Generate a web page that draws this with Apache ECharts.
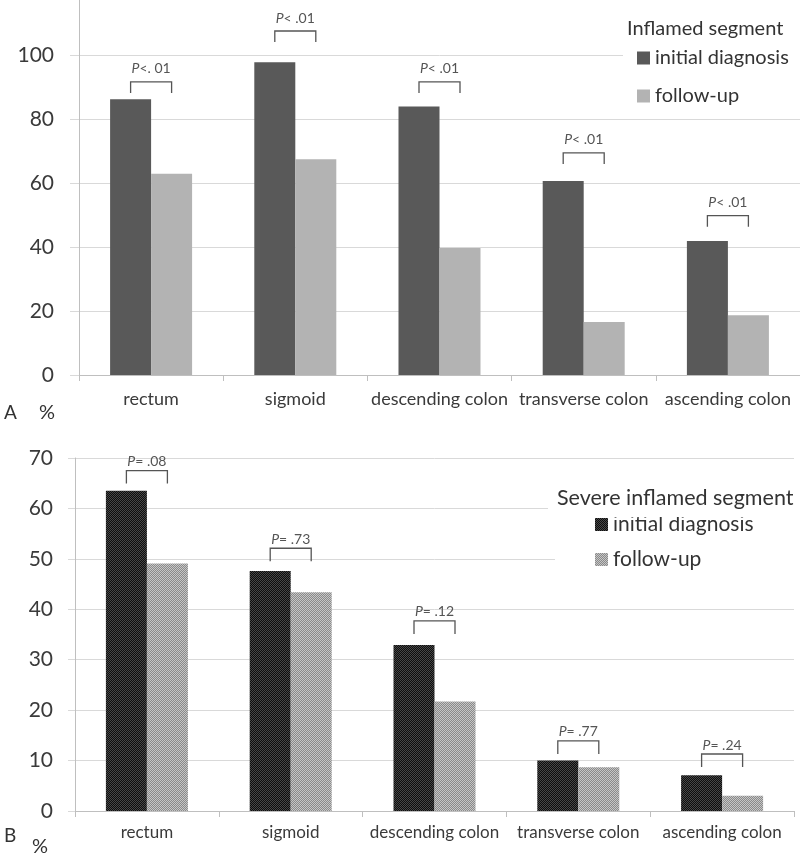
<!DOCTYPE html>
<html>
<head>
<meta charset="utf-8">
<script src="https://cdn.jsdelivr.net/npm/echarts@6/dist/echarts.min.js"></script>
<style>html,body{margin:0;padding:0;background:#fff}#c{width:800px;height:862px}</style>
</head>
<body>
<div id="c"></div>
<script>
// ---- data ----
var categories = ['rectum', 'sigmoid', 'descending colon', 'transverse colon', 'ascending colon'];
var inflamedInitial = [86.2, 97.7, 83.9, 60.6, 41.9];
var inflamedFollowUp = [62.9, 67.4, 39.7, 16.6, 18.7];
var inflamedBracket = [91.6, 107.5, 91.6, 69.4, 49.8];
var inflamedP = ['P<. 01', 'P< .01', 'P< .01', 'P< .01', 'P< .01'];
var severeInitial = [63.5, 47.6, 32.9, 10.0, 7.1];
var severeFollowUp = [49.1, 43.4, 21.7, 8.7, 3.0];
var severeBracket = [67.5, 52.1, 37.7, 13.9, 11.3];
var severeP = ['P= .08', 'P= .73', 'P= .12', 'P= .77', 'P= .24'];
var seriesNames = ['initial diagnosis', 'follow-up'];

var FONT = 'Lato, "Noto Sans", sans-serif';
var BAR_W = 41;

function checker(c1, c2) {
  var cv = document.createElement('canvas');
  cv.width = 2; cv.height = 2;
  var ctx = cv.getContext('2d');
  ctx.fillStyle = c1; ctx.fillRect(0, 0, 2, 2);
  ctx.fillStyle = c2; ctx.fillRect(0, 0, 1, 1); ctx.fillRect(1, 1, 1, 1);
  return { image: cv, repeat: 'repeat' };
}
var darkPattern = checker('#0e0e0e', '#474747');
var lightPattern = checker('#8a8a8a', '#c6c6c6');

function bracketSeries(gridIdx, levels, labels, leg, textOff, fontSize) {
  return {
    type: 'custom', xAxisIndex: gridIdx, yAxisIndex: gridIdx, z: 5, clip: false,
    data: levels.map(function (v, i) { return [i, v]; }),
    encode: { x: 0, y: 1 },
    renderItem: function (params, api) {
      var p = api.coord([api.value(0), api.value(1)]);
      var x1 = p[0] - BAR_W / 2, x2 = p[0] + BAR_W / 2, y = p[1];
      var lab = labels[params.dataIndex];
      return {
        type: 'group',
        children: [
          { type: 'polyline', shape: { points: [[x1, y + leg], [x1, y], [x2, y], [x2, y + leg]] },
            style: { stroke: '#555', lineWidth: 1.3, fill: null } },
          { type: 'text', x: (x1 + x2) / 2, y: y - textOff,
            style: { text: '{i|P}' + lab.slice(1), align: 'center', verticalAlign: 'middle',
              fontFamily: FONT, fontSize: fontSize, fill: '#555',
              rich: { i: { fontStyle: 'italic', fontFamily: FONT, fontSize: fontSize, fill: '#555' } } } }
        ]
      };
    }
  };
}

var chart = echarts.init(document.getElementById('c'), null, { renderer: 'canvas' });
var axisGray = '#bfbfbf', gridGray = '#d9d9d9', labelColor = '#3a3a3a';

chart.setOption({
  animation: false,
  backgroundColor: '#fff',
  title: [
    { text: 'Inflamed segment', left: 622, top: 16, padding: [3, 5, 3, 5], backgroundColor: '#fff',
      textStyle: { fontFamily: FONT, fontSize: 20, fontWeight: 'normal', color: '#333' } },
    { text: 'Severe inflamed segment', left: 548, top: 479, padding: [8, 20, 8, 9], backgroundColor: '#fff',
      textStyle: { fontFamily: FONT, fontSize: 21.5, fontWeight: 'normal', color: '#333' } }
  ],
  legend: [
    { orient: 'vertical', left: 623, top: 43, padding: [5, 20, 5, 14], backgroundColor: '#fff',
      icon: 'rect', itemWidth: 13, itemHeight: 13, itemGap: 18, selectedMode: false,
      textStyle: { fontFamily: FONT, fontSize: 20, lineHeight: 20, color: '#333' },
      data: [{ name: seriesNames[0], itemStyle: { color: '#595959' } },
             { name: seriesNames[1], itemStyle: { color: '#b3b3b3' } }] },
    { orient: 'vertical', left: 555, top: 509, padding: [5, 50, 5, 40], backgroundColor: '#fff',
      icon: 'rect', itemWidth: 13, itemHeight: 13, itemGap: 14, selectedMode: false,
      textStyle: { fontFamily: FONT, fontSize: 21, lineHeight: 20, color: '#333' },
      data: [{ name: seriesNames[0], itemStyle: { color: darkPattern } },
             { name: seriesNames[1], itemStyle: { color: lightPattern } }] }
  ],
  grid: [
    { left: 79, right: 0, top: 0, height: 375 },
    { left: 75, right: 6, top: 458, height: 353 }
  ],
  xAxis: [0, 1].map(function (g) {
    return {
      type: 'category', gridIndex: g, data: categories,
      axisLine: { lineStyle: { color: axisGray, width: 1 } },
      axisTick: { show: true, length: 6, lineStyle: { color: axisGray } },
      axisLabel: { fontFamily: FONT, fontSize: g === 0 ? 18 : 17, color: labelColor, margin: g === 0 ? 15 : 13, interval: 0 }
    };
  }),
  yAxis: [
    { type: 'value', gridIndex: 0, min: 0, max: 117.1875, interval: 20,
      axisLine: { show: true, lineStyle: { color: axisGray } },
      axisTick: { show: true, length: 9, lineStyle: { color: gridGray } },
      splitLine: { showMaxLine: false, lineStyle: { color: gridGray } },
      axisLabel: { fontFamily: FONT, fontSize: 21, color: labelColor, margin: 25, showMaxLabel: false,
        formatter: function (v) { return v > 100 ? '' : v; } } },
    { type: 'value', gridIndex: 1, min: 0, max: 70, interval: 10,
      axisLine: { show: true, lineStyle: { color: axisGray } },
      axisTick: { show: true, length: 7, lineStyle: { color: gridGray } },
      splitLine: { lineStyle: { color: gridGray } },
      axisLabel: { fontFamily: FONT, fontSize: 21, color: labelColor, margin: 22 } }
  ],
  graphic: [
    { type: 'text', left: 4, top: 403, style: { text: 'A', fontFamily: FONT, fontSize: 19, fill: '#333' } },
    { type: 'text', left: 39, top: 403, style: { text: '%', fontFamily: FONT, fontSize: 20, fill: '#333' } },
    { type: 'text', left: 4, top: 826, style: { text: 'B', fontFamily: FONT, fontSize: 19, fill: '#333' } },
    { type: 'text', left: 32, top: 837, style: { text: '%', fontFamily: FONT, fontSize: 20, fill: '#333' } }
  ],
  series: [
    { name: seriesNames[0], type: 'bar', xAxisIndex: 0, yAxisIndex: 0, data: inflamedInitial,
      barWidth: BAR_W, barGap: '0%', itemStyle: { color: '#595959' } },
    { name: seriesNames[1], type: 'bar', xAxisIndex: 0, yAxisIndex: 0, data: inflamedFollowUp,
      barWidth: BAR_W, barGap: '0%', itemStyle: { color: '#b3b3b3' } },
    { name: seriesNames[0], type: 'bar', xAxisIndex: 1, yAxisIndex: 1, data: severeInitial,
      barWidth: BAR_W, barGap: '0%', itemStyle: { color: darkPattern } },
    { name: seriesNames[1], type: 'bar', xAxisIndex: 1, yAxisIndex: 1, data: severeFollowUp,
      barWidth: BAR_W, barGap: '0%', itemStyle: { color: lightPattern } },
    bracketSeries(0, inflamedBracket, inflamedP, 11, 13, 14),
    bracketSeries(1, severeBracket, severeP, 13, 9, 14)
  ]
});
</script>
</body>
</html>
